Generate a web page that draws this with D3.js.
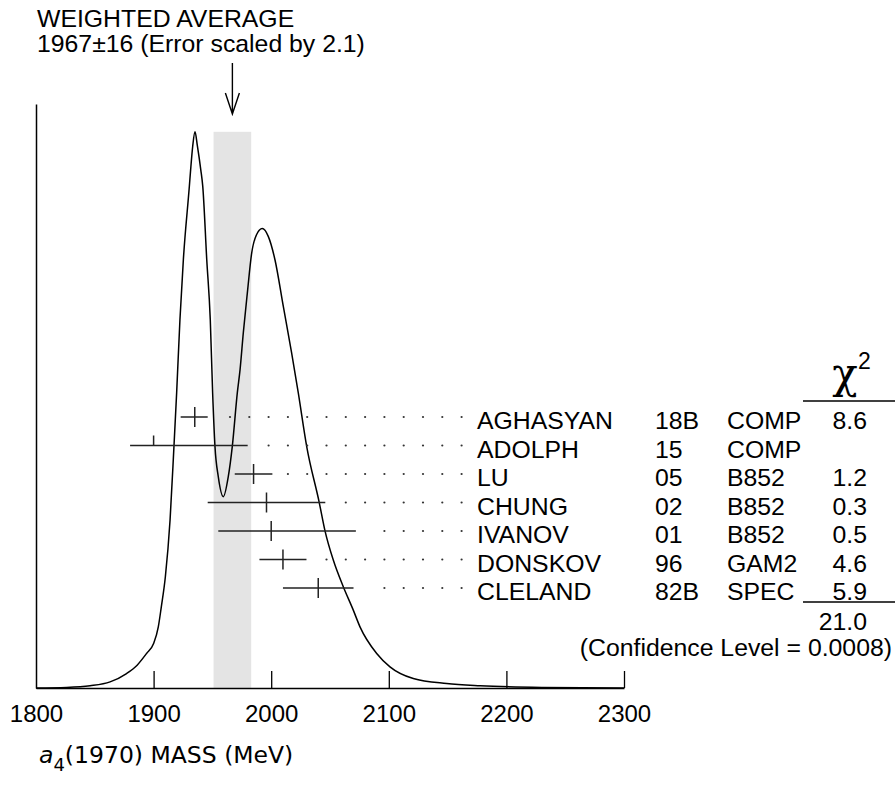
<!DOCTYPE html>
<html>
<head>
<meta charset="utf-8">
<script src="https://cdn.jsdelivr.net/npm/d3@7"></script>
<style>
  html, body { margin: 0; padding: 0; background: #fff; }
  svg text { font-family: "Liberation Sans", Arial, Helvetica, sans-serif; fill: #000; }
</style>
</head>
<body>
<div id="container"></div>
<script>
// measurements (a4(1970) mass, MeV)
const authors = ['AGHASYAN', 'ADOLPH', 'LU', 'CHUNG', 'IVANOV', 'DONSKOV', 'CLELAND'];
const years = ['18B', '15', '05', '02', '01', '96', '82B'];
const techniques = ['COMP', 'COMP', 'B852', 'B852', 'B852', 'GAM2', 'SPEC'];
const values = [1935, 1900, 1985, 1996, 2000, 2010, 2040];
const errLow = [12, 20, 16, 50, 45, 20, 30];
const errHigh = [11, 80, 16, 50, 72, 20, 30];
const chi2 = [8.6, null, 1.2, 0.3, 0.5, 4.6, 5.9];

const chi2Total = 21.0;
const confidenceLevel = '0.0008';
const avgValue = 1967;
const avgError = 16;
const errorScale = 2.1;

const xTicks = [1800, 1900, 2000, 2100, 2200, 2300];

// ideogram curve (mass, relative height)
const curveMass = [1800, 1826, 1846, 1863, 1877, 1886, 1894, 1900, 1904, 1906.5, 1910, 1914, 1917.3,
  1919.6, 1922.4, 1925.3, 1930.4, 1931.5, 1933.3, 1935.2, 1937.2, 1940.1, 1941.8, 1945.2, 1948.2,
  1950.2, 1952.2, 1955, 1959.3, 1963.5, 1966.9, 1971.2, 1973.5, 1976.3, 1979.7, 1983.4, 1987.5,
  1992.4, 1997.5, 2003.2, 2010.3, 2017.4, 2023, 2030.2, 2040.9, 2045.7, 2052.8, 2061.3, 2069.8,
  2075.5, 2089.7, 2101, 2120.8, 2149.2, 2177.6, 2230, 2300];
const curveHeight = [0, 0.001, 0.004, 0.011, 0.026, 0.041, 0.062, 0.080, 0.110, 0.145, 0.200, 0.302, 0.434,
  0.531, 0.662, 0.770, 0.902, 0.932, 0.975, 1.000, 0.975, 0.932, 0.902, 0.770, 0.662,
  0.531, 0.434, 0.380, 0.344, 0.380, 0.434, 0.531, 0.572, 0.639, 0.710, 0.782, 0.815,
  0.826, 0.812, 0.770, 0.686, 0.602, 0.531, 0.434, 0.333, 0.283, 0.230, 0.182, 0.140,
  0.110, 0.062, 0.038, 0.017, 0.008, 0.004, 0.001, 0];

const width = 895, height = 791;
const fs = 24.8;

const svg = d3.select('#container')
  .append('svg')
  .attr('xmlns', 'http://www.w3.org/2000/svg')
  .attr('width', width)
  .attr('height', height)
  .attr('viewBox', `0 0 ${width} ${height}`);

const x = d3.scaleLinear().domain([1800, 2300]).range([36, 624]);
const y = d3.scaleLinear().domain([0, 1.05]).range([688, 104]);
const row = d3.scalePoint().domain(authors).range([417, 588]);

// weighted average band
svg.append('rect')
  .attr('x', x(avgValue - avgError))
  .attr('y', y(1))
  .attr('width', x(avgValue + avgError) - x(avgValue - avgError))
  .attr('height', y(0) - y(1))
  .attr('fill', '#e4e4e4');

// ideogram
const curve = d3.zip(curveMass, curveHeight);
svg.append('path')
  .datum(curve)
  .attr('fill', 'none')
  .attr('stroke', '#000')
  .attr('stroke-width', 1.5)
  .attr('d', d3.line()
    .x(d => x(d[0]))
    .y(d => y(d[1]))
    .curve(d3.curveMonotoneX));

// axes
const xAxis = svg.append('g')
  .attr('transform', `translate(0,${y(0)})`)
  .call(d3.axisBottom(x).tickValues(xTicks).tickFormat(d3.format('d'))
    .tickSizeInner(-17).tickSizeOuter(0).tickPadding(17));
xAxis.select('.domain').attr('stroke', '#000').attr('stroke-width', 1.5);
xAxis.selectAll('.tick line').attr('stroke', '#000').attr('stroke-width', 1.3);
xAxis.selectAll('.tick').filter(d => d === 1800).select('line').remove();
xAxis.selectAll('.tick text')
  .attr('font-family', '"Liberation Sans", Arial, sans-serif')
  .attr('font-size', 24)
  .attr('fill', '#000');

const yAxis = svg.append('g')
  .attr('transform', `translate(${x(1800)},0)`)
  .call(d3.axisLeft(y).tickValues([]).tickSizeOuter(0));
yAxis.select('.domain').attr('stroke', '#000').attr('stroke-width', 1.5);

// error bars
const idx = d3.range(authors.length);
const bars = svg.append('g');
bars.selectAll('line.err')
  .data(idx)
  .join('line')
  .attr('class', 'err')
  .attr('x1', i => x(values[i] - errLow[i]))
  .attr('x2', i => x(values[i] + errHigh[i]))
  .attr('y1', i => row(authors[i]))
  .attr('y2', i => row(authors[i]))
  .attr('stroke', '#222')
  .attr('stroke-width', 1.5);
bars.selectAll('line.mid')
  .data(idx)
  .join('line')
  .attr('class', 'mid')
  .attr('x1', i => x(values[i]))
  .attr('x2', i => x(values[i]))
  .attr('y1', i => row(authors[i]) - 10)
  .attr('y2', i => row(authors[i]) + (chi2[i] === null ? 0 : 10))
  .attr('stroke', '#222')
  .attr('stroke-width', 1.5);

// dotted leaders
const dotEnd = 461.6, dotStep = 19.3;
idx.forEach(i => {
  const start = x(values[i] + errHigh[i]) + 14;
  const dots = d3.range(dotEnd, start, -dotStep);
  svg.append('g').selectAll('circle')
    .data(dots)
    .join('circle')
    .attr('cx', d => d)
    .attr('cy', row(authors[i]))
    .attr('r', 1.1)
    .attr('fill', '#333');
});

// table
const table = svg.append('g').attr('font-size', fs);
const addColumn = (list, xPos, anchor) => {
  table.append('g').selectAll('text')
    .data(idx)
    .join('text')
    .attr('x', xPos)
    .attr('y', i => row(authors[i]) + 12)
    .attr('text-anchor', anchor)
    .text(i => list[i] === null ? '' : list[i]);
};
addColumn(authors, 477, 'start');
addColumn(years, 655, 'start');
addColumn(techniques, 727, 'start');
addColumn(chi2.map(v => v === null ? null : v.toFixed(1)), 867, 'end');

// chi2 header and total
svg.append('text')
  .attr('x', 845)
  .attr('y', 388)
  .attr('text-anchor', 'middle')
  .attr('font-size', 42)
  .style('font-family', '"DejaVu Serif", serif')
  .text('χ');
svg.append('text')
  .attr('x', 858)
  .attr('y', 369)
  .attr('font-size', 23)
  .text('2');
svg.append('line')
  .attr('x1', 803).attr('x2', 895)
  .attr('y1', 401).attr('y2', 401)
  .attr('stroke', '#000').attr('stroke-width', 1.3);
svg.append('line')
  .attr('x1', 803).attr('x2', 895)
  .attr('y1', 602).attr('y2', 602)
  .attr('stroke', '#000').attr('stroke-width', 1.3);
svg.append('text')
  .attr('x', 867).attr('y', 630)
  .attr('text-anchor', 'end')
  .attr('font-size', fs)
  .text(chi2Total.toFixed(1));
svg.append('text')
  .attr('x', 892).attr('y', 656)
  .attr('text-anchor', 'end')
  .attr('font-size', fs)
  .text(`(Confidence Level = ${confidenceLevel})`);

// weighted average label + arrow
svg.append('text')
  .attr('x', 37).attr('y', 27)
  .attr('font-size', fs)
  .text('WEIGHTED AVERAGE');
svg.append('text')
  .attr('x', 37).attr('y', 52)
  .attr('font-size', fs)
  .text(`${avgValue}\u00b1${avgError} (Error scaled by ${errorScale})`);
const ax = x(avgValue);
svg.append('path')
  .attr('d', `M${ax},63 L${ax},114 M${ax - 7},93 L${ax},114 L${ax + 7},93`)
  .attr('fill', 'none')
  .attr('stroke', '#000')
  .attr('stroke-width', 1.4);

// axis title
const title = svg.append('text')
  .attr('x', 39).attr('y', 763)
  .style('font-family', '"DejaVu Sans", sans-serif')
  .attr('font-size', 23.5);
title.append('tspan').attr('font-style', 'italic').text('a');
title.append('tspan').attr('font-size', 18).attr('dy', 8).text('4');
title.append('tspan').attr('dy', -8).text('(1970) MASS (MeV)');
</script>
</body>
</html>
